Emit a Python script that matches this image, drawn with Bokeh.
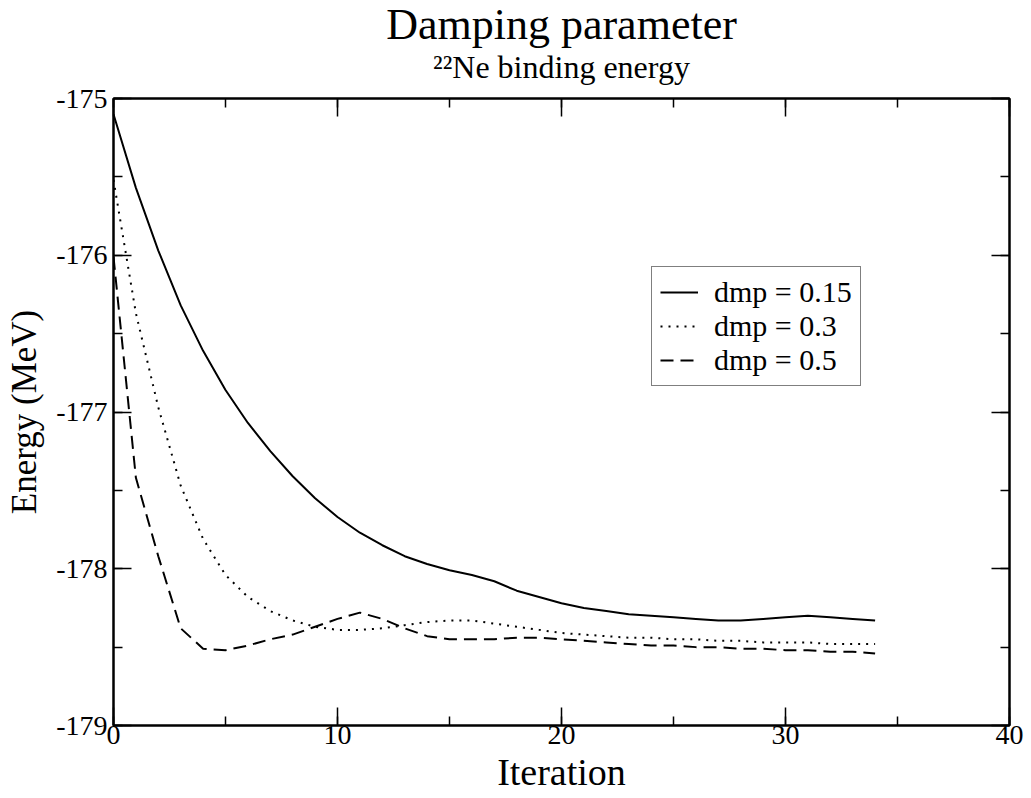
from bokeh.plotting import figure
from bokeh.models import (Range1d, LinearAxis, SingleIntervalTicker, PrintfTickFormatter,
                          CustomJSTickFormatter, Title, Legend, LegendItem)
from bokeh.embed import file_html
from bokeh.resources import INLINE

# ---------------- data ----------------
iterations = list(range(35))
dmp_015 = [-175.10, -175.57, -175.97, -176.32, -176.61, -176.86, -177.07, -177.25, -177.41, -177.55,
           -177.67, -177.77, -177.85, -177.92, -177.97, -178.01, -178.04, -178.08, -178.14, -178.18,
           -178.22, -178.25, -178.27, -178.29, -178.30, -178.31, -178.32, -178.33, -178.33, -178.32,
           -178.31, -178.30, -178.31, -178.32, -178.33]
dmp_03 = [-175.52, -176.37, -176.97, -177.47, -177.81, -178.04, -178.18, -178.27, -178.33, -178.37,
          -178.39, -178.39, -178.38, -178.36, -178.34, -178.33, -178.33, -178.35, -178.37, -178.39,
          -178.41, -178.42, -178.43, -178.44, -178.44, -178.45, -178.45, -178.46, -178.46, -178.47,
          -178.47, -178.47, -178.48, -178.48, -178.48]
dmp_05 = [-176.01, -177.42, -177.92, -178.38, -178.51, -178.52, -178.49, -178.45, -178.42, -178.37,
          -178.32, -178.28, -178.32, -178.38, -178.43, -178.45, -178.45, -178.45, -178.44, -178.44,
          -178.45, -178.46, -178.47, -178.48, -178.49, -178.49, -178.50, -178.50, -178.51, -178.51,
          -178.52, -178.52, -178.53, -178.53, -178.54]
series_labels = ["dmp = 0.15", "dmp = 0.3", "dmp = 0.5"]
title_text = "Damping parameter"
subtitle_text = "\u00b2\u00b2Ne binding energy"
x_label = "Iteration"
y_label = "Energy (MeV)"

FONT = "Liberation Serif"
FONT_Q = "'Liberation Serif'"

p = figure(width=1031, height=798, output_backend="svg", toolbar_location=None,
           x_range=Range1d(0, 40), y_range=Range1d(-179, -175),
           min_border_left=113, min_border_right=22, min_border_top=98, min_border_bottom=73,
           title=None)
p.background_fill_color = "white"
p.border_fill_color = "white"
p.outline_line_color = "black"
p.outline_line_width = 2
p.xgrid.visible = False
p.ygrid.visible = False


def style_axis(ax, ticker, show_labels):
    ax.ticker = ticker
    ax.axis_line_color = "black"
    ax.axis_line_width = 2
    ax.major_tick_in = 18
    ax.major_tick_out = 0
    ax.minor_tick_in = 9
    ax.minor_tick_out = 0
    ax.major_tick_line_width = 1.5
    ax.minor_tick_line_width = 1.5
    ax.major_tick_line_color = "black"
    ax.minor_tick_line_color = "black"
    ax.major_label_text_font = FONT_Q
    ax.major_label_text_color = "black"
    if show_labels:
        ax.formatter = PrintfTickFormatter(format="%d")
        ax.major_label_text_font_size = "28px"
    else:
        ax.formatter = CustomJSTickFormatter(code="return ''")
        ax.major_label_text_font_size = "1px"
        ax.major_label_standoff = 0


style_axis(p.xaxis[0], SingleIntervalTicker(interval=10, num_minor_ticks=2), True)
p.xaxis[0].major_label_standoff = 0
p.xaxis[0].axis_label = x_label
p.xaxis[0].axis_label_text_font = FONT
p.xaxis[0].axis_label_text_font_size = "38px"
p.xaxis[0].axis_label_text_font_style = "normal"
p.xaxis[0].axis_label_text_color = "black"
p.xaxis[0].axis_label_standoff = 4

style_axis(p.yaxis[0], SingleIntervalTicker(interval=1, num_minor_ticks=2), True)
p.yaxis[0].major_label_standoff = 6
p.yaxis[0].axis_label = y_label
p.yaxis[0].axis_label_text_font = FONT
p.yaxis[0].axis_label_text_font_size = "35px"
p.yaxis[0].axis_label_text_font_style = "normal"
p.yaxis[0].axis_label_text_color = "black"
p.yaxis[0].axis_label_standoff = 9

top_axis = LinearAxis()
style_axis(top_axis, SingleIntervalTicker(interval=10, num_minor_ticks=2), False)
p.add_layout(top_axis, "above")
right_axis = LinearAxis()
style_axis(right_axis, SingleIntervalTicker(interval=1, num_minor_ticks=2), False)
p.add_layout(right_axis, "right")

sub = Title(text=subtitle_text, align="center", text_font=FONT_Q, text_font_size="32px",
            text_font_style="normal", text_color="black", standoff=28)
p.add_layout(sub, "above")
main = Title(text=title_text, align="center", text_font=FONT_Q, text_font_size="44px",
             text_font_style="normal", text_color="black", standoff=-32)
p.add_layout(main, "above")

r1 = p.line(iterations, dmp_015, line_color="black", line_width=2)
r2 = p.line(iterations, dmp_03, line_color="black", line_width=2, line_dash="2 6")
r3 = p.line(iterations, dmp_05, line_color="black", line_width=2, line_dash="13 7")

legend = Legend(items=[LegendItem(label=series_labels[0], renderers=[r1]),
                       LegendItem(label=series_labels[1], renderers=[r2]),
                       LegendItem(label=series_labels[2], renderers=[r3])],
                location=(538, 339), orientation="vertical")
legend.border_line_color = "black"
legend.border_line_width = 1.5
legend.background_fill_color = "white"
legend.background_fill_alpha = 1
legend.label_text_font = FONT_Q
legend.label_text_font_size = "30px"
legend.label_text_color = "black"
legend.glyph_width = 38
legend.glyph_height = 20
legend.label_height = 20
legend.label_standoff = 16
legend.spacing = -8
legend.padding = 8
legend.margin = 0
p.add_layout(legend, "center")

open("out.html", "w").write(file_html(p, INLINE))
